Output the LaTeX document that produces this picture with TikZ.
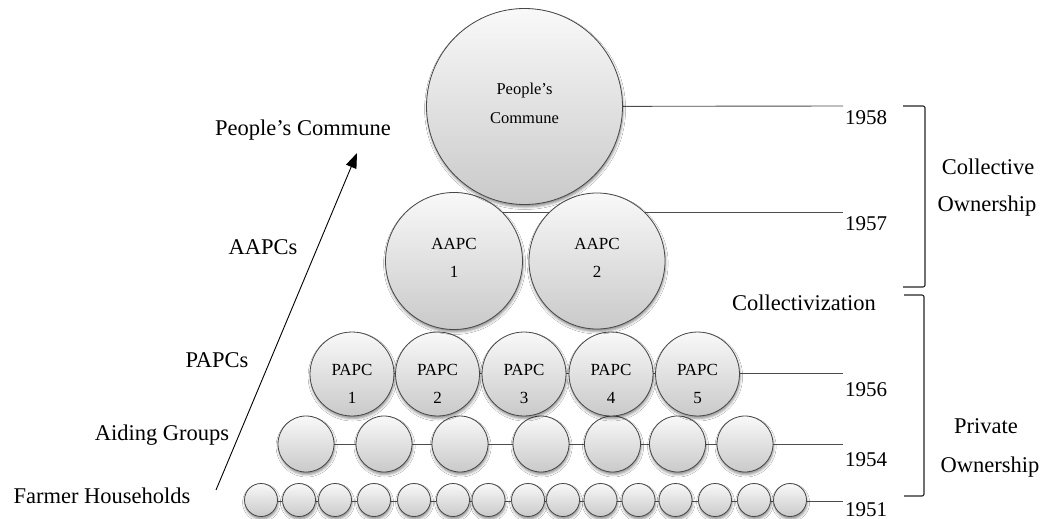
\documentclass[tikz,border=0pt]{standalone}
\usepackage{fontspec}
\setmainfont{Liberation Serif}
\usetikzlibrary{arrows.meta,shadows.blur,backgrounds}

\begin{document}
\begin{tikzpicture}[x=1pt,y=-1pt,
  orb/.style={circle,draw=black!72,line width=0.8pt,inner sep=0pt,
    top color=gray!5,bottom color=gray!42,
    blur shadow={shadow xshift=0.6pt,shadow yshift=-2.5pt,
      shadow blur radius=2.5pt,shadow opacity=45}},
  intext/.style={align=center,inner sep=0pt,font=\fontsize{17}{28}\selectfont},
  sidelbl/.style={anchor=base,inner sep=0pt,font=\fontsize{22.5}{27}\selectfont},
  yearlbl/.style={anchor=base west,inner sep=0pt,font=\fontsize{21}{25}\selectfont},
  yline/.style={draw=black!70,line width=0.9pt},
  brace/.style={draw=black!85,line width=1.1pt,rounded corners=2pt},
  rise/.style={line width=0.9pt,-{Triangle[length=15pt,width=11pt]}}]

\useasboundingbox (0,0) rectangle (1041,519);

% ends of the year lines
\coordinate (e58) at (843,106);
\coordinate (e57) at (843,212);
\coordinate (e56) at (843,373);
\coordinate (e54) at (843,444);
\coordinate (e51) at (843,501);

% farmer households
\foreach \x [count=\i] in {261,299,335,374,414,453,488.5,528,563,600.5,638.5,675.5,715,754,790}
  \node[orb,minimum size=33pt] (f\i) at (\x,500) {};

% aiding groups
\foreach \x [count=\i] in {306,384,460,541,612.5,677.5,745}
  \node[orb,minimum size=56pt] (g\i) at (\x,444) {};

% primary cooperatives
\foreach \x [count=\i] in {352,437.5,524,611,697.5} {
  \node[orb,minimum size=84pt] (p\i) at (\x,374) {};
  \node[intext] (p\i-t) at ([yshift=-10.3pt]p\i.center) {PAPC\\\i};
}

% advanced cooperatives
\node[orb,minimum size=137pt] (a1) at (454,261) {};
\node[orb,minimum size=136pt] (a2) at (597,261) {};
\node[intext] (a1-t) at ([yshift=3.6pt]a1.center) {AAPC\\1};
\node[intext] (a2-t) at ([yshift=3.6pt]a2.center) {AAPC\\2};

% commune
\node[orb,minimum size=196pt] (pc) at (524.5,106.5) {};
\node[intext,font=\fontsize{16.5}{29.7}\selectfont] (pc-t) at ([yshift=3pt]pc.center) {People's\\Commune};

% white page and year lines, behind the circles
\begin{scope}[on background layer]
  \fill[white] (0,0) rectangle (1041,519);
  \draw[yline] (pc.center) -- (e58);
  \draw[yline] (a1.center |- e57) -- (e57);
  \draw[yline] (p1.center |- e56) -- (e56);
  \draw[yline] (g1.center) -- (e54);
  \draw[yline] (f1.center |- e51) -- (e51);
\end{scope}

% years
\node[yearlbl] (y58) at (845,124.3) {1958};
\node[yearlbl] (y57) at (845,230) {1957};
\node[yearlbl] (y56) at (845,396.7) {1956};
\node[yearlbl] (y54) at (845,466.7) {1954};
\node[yearlbl] (y51) at (845,516) {1951};

% stage labels on the left
\node[sidelbl] (l-pc) at (303,135) {People's Commune};
\node[sidelbl] (l-aa) at (263,254) {AAPCs};
\node[sidelbl] (l-pa) at (217,367) {PAPCs};
\node[sidelbl] (l-ag) at (162,440) {Aiding Groups};
\node[sidelbl] (l-fh) at (102,503) {Farmer Households};

% rising arrow
\coordinate (rise0) at (216,490);
\coordinate (rise1) at (357,153);
\draw[rise] (rise0) -- (rise1);

% ownership brackets
\draw[brace] (903,106) -- (925,106) -- (925,287) -- (903,287);
\draw[brace] (904,295) -- (924,295) -- (924,496) -- (904,496);

\node[sidelbl] (coll) at (804,310.7) {Collectivization};
\node[sidelbl] (own-c1) at (988,174) {Collective};
\node[sidelbl] (own-c2) at (987,211.7) {Ownership};
\node[sidelbl] (own-p1) at (986,433) {Private};
\node[sidelbl] (own-p2) at (990,472.3) {Ownership};
\end{tikzpicture}
\end{document}
